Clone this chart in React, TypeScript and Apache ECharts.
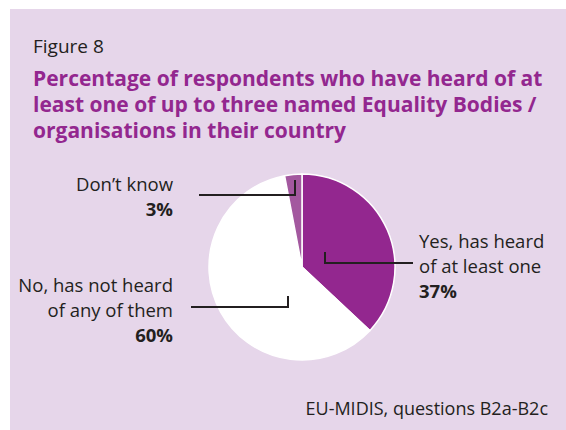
import React, { useEffect, useRef } from "react";
import * as echarts from "echarts";

const categories = ["Yes, has heard of at least one", "No, has not heard of any of them", "Don’t know"];
const labelLines = [["Yes, has heard", "of at least one"], ["No, has not heard", "of any of them"], ["Don’t know"]];
const values = [37, 60, 3];
const colors = ["#93278f", "#ffffff", "#a3589f"];

const figureLabel = "Figure 8";
const titleText = "Percentage of respondents who have heard of at\nleast one of up to three named Equality Bodies /\norganisations in their country";
const sourceText = "EU-MIDIS, questions B2a-B2c";

// label placement (px) for each slice: anchor x, top y, align, leader points
const labelPlacement = [
  { x: 419, y: 228, align: "left", pts: [[325, 252], [325, 263], [413, 263]] },
  { x: 173, y: 272, align: "right", pts: [[288, 296], [288, 307], [191, 307]] },
  { x: 173, y: 171, align: "right", pts: [[295, 180], [295, 195], [199, 195]] },
];

export default function App() {
  const ref = useRef<HTMLDivElement>(null);
  useEffect(() => {
    document.body.style.margin = "0";
    const chart = echarts.init(ref.current!, null, { renderer: "svg" });
    const font = "'Open Sans', 'Noto Sans', sans-serif";
    chart.setOption({
      animation: false,
      backgroundColor: "#ffffff",
      graphic: [
        { type: "rect", z: -10, shape: { x: 10, y: 9, width: 560, height: 430 }, style: { fill: "#e6d6ea" } },
        ...labelPlacement.map((lp) => ({
          type: "polyline",
          z: 10,
          shape: { points: lp.pts },
          style: { stroke: "#231f20", lineWidth: 2, fill: null },
        })),
      ],
      title: [
        {
          text: figureLabel,
          left: 33,
          top: 36,
          padding: 0,
          textStyle: { fontFamily: font, fontSize: 19, fontWeight: "normal", color: "#231f20" },
        },
        {
          text: titleText,
          left: 33,
          top: 65,
          padding: 0,
          textStyle: { fontFamily: font, fontSize: 21, fontWeight: "bold", color: "#93278f", lineHeight: 26 },
        },
        {
          text: sourceText,
          right: 18,
          top: 399,
          padding: 0,
          textStyle: { fontFamily: font, fontSize: 18, fontWeight: "normal", color: "#231f20" },
        },
      ],
      series: [
        {
          type: "pie",
          center: [302, 267],
          radius: 93,
          startAngle: 90,
          clockwise: true,
          silent: true,
          data: categories.map((c, i) => ({ name: c, value: values[i], itemStyle: { color: colors[i] } })),
          itemStyle: { borderColor: "#ffffff", borderWidth: 1.5 },
          label: {
            show: true,
            position: "outside",
            overflow: "none",
            edgeDistance: 0,
            fontFamily: font,
            color: "#231f20",
            formatter: (p: any) =>
              labelLines[p.dataIndex].map((l) => `{n|${l}}`).join("\n") + `\n{p|${p.value}%}`,
            rich: {
              n: { fontFamily: font, fontSize: 18.5, lineHeight: 25, color: "#231f20" },
              p: { fontFamily: font, fontSize: 18.5, fontWeight: "bold", lineHeight: 25, color: "#231f20" },
            },
          },
          labelLine: { show: false },
          labelLayout: (params: any) => {
            const lp = labelPlacement[params.dataIndex];
            return {
              x: lp.x,
              y: lp.y,
              align: lp.align,
              verticalAlign: "top",
            };
          },
        },
      ],
    });
    return () => chart.dispose();
  }, []);
  return <div ref={ref} style={{ width: 566, height: 430 }} />;
}
